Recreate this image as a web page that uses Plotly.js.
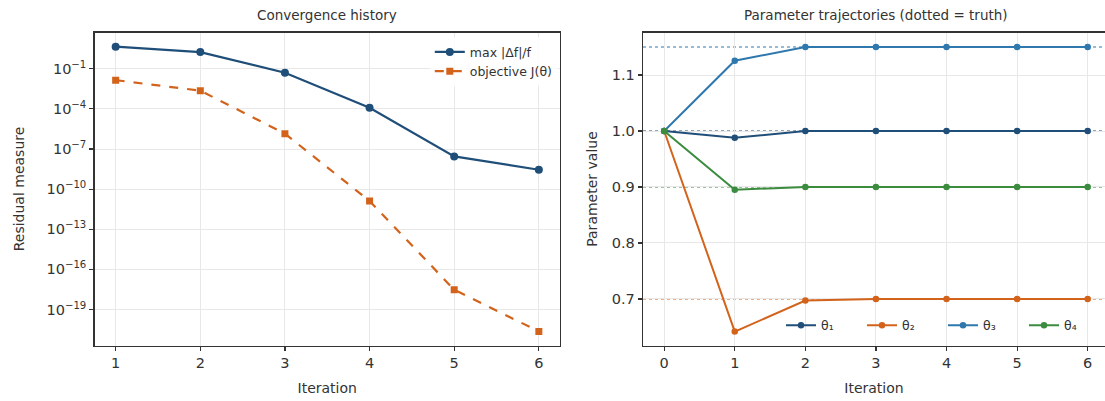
<!DOCTYPE html>
<html>
<head>
<meta charset="utf-8">
<script src="https://cdn.plot.ly/plotly-3.0.1.min.js"></script>
<style>html,body{margin:0;padding:0;background:#fff}#chart{width:1105px;height:401px}</style>
</head>
<body>
<div id="chart"></div>
<script>
// ---- data ----
const iterations = [1, 2, 3, 4, 5, 6];
const maxRelChange = [4.5, 1.76, 0.05, 1.2e-4, 2.8e-8, 2.8e-9];
const objective = [0.014, 2.3e-3, 1.4e-6, 1.3e-11, 3e-18, 2.3e-21];

const paramIter = [0, 1, 2, 3, 4, 5, 6];
const theta1 = [1.0, 0.988, 1.0, 1.0, 1.0, 1.0, 1.0];
const theta2 = [1.0, 0.6417, 0.697, 0.7, 0.7, 0.7, 0.7];
const theta3 = [1.0, 1.1255, 1.15, 1.15, 1.15, 1.15, 1.15];
const theta4 = [1.0, 0.895, 0.9, 0.9, 0.9, 0.9, 0.9];
const truthValues = [1.0, 0.7, 1.15, 0.9];
const thetaNames = ['θ₁', 'θ₂', 'θ₃', 'θ₄'];

const logTickVals = [1e-1, 1e-4, 1e-7, 1e-10, 1e-13, 1e-16, 1e-19];
const logTickText = ['10<sup>−1</sup>', '10<sup>−4</sup>', '10<sup>−7</sup>', '10<sup>−10</sup>',
                     '10<sup>−13</sup>', '10<sup>−16</sup>', '10<sup>−19</sup>'];
const paramTickVals = [0.7, 0.8, 0.9, 1.0, 1.1];
const paramTickText = ['0.7', '0.8', '0.9', '1.0', '1.1'];

// ---- styles ----
const cDark = '#1f4e79', cOrange = '#d3631b', cSteel = '#2e78ad', cGreen = '#3b8c3e';
const thetaColors = [cDark, cOrange, cSteel, cGreen];
const FONT = 'DejaVu Sans, sans-serif';
const W = 1105, H = 401;
const yTop = 1 - 32.5 / H, yBot = 1 - 345.5 / H;
const titleFont = {family: FONT, size: 14, color: '#333'};

const traces = [
  {x: iterations, y: maxRelChange, name: 'max |Δf|/f', mode: 'lines+markers',
   line: {color: cDark, width: 2.2}, marker: {color: cDark, size: 8, symbol: 'circle'},
   xaxis: 'x', yaxis: 'y', legend: 'legend'},
  {x: iterations, y: objective, name: 'objective J(θ)', mode: 'lines+markers',
   line: {color: cOrange, width: 2.2, dash: 'dash'}, marker: {color: cOrange, size: 7, symbol: 'square'},
   xaxis: 'x', yaxis: 'y', legend: 'legend'}
];
[theta1, theta2, theta3, theta4].forEach((th, i) => {
  traces.push({x: paramIter, y: th, name: thetaNames[i], mode: 'lines+markers',
    line: {color: thetaColors[i], width: 2}, marker: {color: thetaColors[i], size: 6.5},
    xaxis: 'x2', yaxis: 'y2', legend: 'legend2'});
});

const shapes = truthValues.map((v, i) => ({
  type: 'line', xref: 'x2 domain', yref: 'y2', x0: 0, x1: 1, y0: v, y1: v,
  line: {color: thetaColors[i], width: 1.1, dash: 'dot'}, layer: 'below'
}));

const axisCommon = {
  showline: true, linecolor: '#333', linewidth: 1.3, ticks: 'outside', ticklen: 4,
  tickcolor: '#333', tickwidth: 1.2, showgrid: true, gridcolor: '#e8e8e8', gridwidth: 1,
  zeroline: false, tickfont: {family: FONT, size: 14.5, color: '#333'}
};

const layout = {
  width: W, height: H, margin: {l: 0, r: 0, t: 0, b: 0},
  paper_bgcolor: '#fff', plot_bgcolor: '#fff', showlegend: true,
  font: {family: FONT, color: '#333'},
  xaxis: Object.assign({}, axisCommon, {domain: [94.5 / W, 560 / W], range: [0.75, 6.25],
    tickvals: iterations, ticktext: iterations.map(String), mirror: true, anchor: 'y',
    title: {text: 'Iteration', font: titleFont, standoff: 13}}),
  yaxis: Object.assign({}, axisCommon, {domain: [yBot, yTop], type: 'log', range: [-21.69, 1.71],
    tickvals: logTickVals, ticktext: logTickText, mirror: true, anchor: 'x',
    title: {text: 'Residual measure', font: titleFont, standoff: 18}}),
  xaxis2: Object.assign({}, axisCommon, {domain: [643 / W, 1], range: [-0.3, 6.245],
    tickvals: paramIter, ticktext: paramIter.map(String), mirror: true, anchor: 'y2',
    title: {text: 'Iteration', font: titleFont, standoff: 13}}),
  yaxis2: Object.assign({}, axisCommon, {domain: [yBot, yTop], range: [0.6168, 1.176],
    tickvals: paramTickVals, ticktext: paramTickText, mirror: false, anchor: 'x2',
    title: {text: 'Parameter value', font: titleFont, standoff: 10}}),
  legend: {x: 560 / W - 0.002, y: yTop - 0.012, xanchor: 'right', yanchor: 'top',
    bgcolor: 'rgba(255,255,255,0.8)', borderwidth: 0,
    font: {family: FONT, size: 12.5, color: '#333'}, tracegroupgap: 2, itemwidth: 30},
  legend2: {x: 1.0, y: yBot + 0.012, xanchor: 'right', yanchor: 'bottom', orientation: 'h',
    bgcolor: 'rgba(255,255,255,0)', borderwidth: 0, entrywidth: 36,
    font: {family: FONT, size: 12.5, color: '#333'}, itemwidth: 30},
  shapes: shapes,
  annotations: [
    {text: 'Convergence history', xref: 'paper', yref: 'paper', x: (94.5 + 560) / 2 / W, y: 1 - 15 / H,
     xanchor: 'center', yanchor: 'middle', showarrow: false, font: {family: FONT, size: 13.5, color: '#333'}},
    {text: 'Parameter trajectories (dotted = truth)', xref: 'paper', yref: 'paper', x: (643 + 1109) / 2 / W,
     y: 1 - 15 / H, xanchor: 'center', yanchor: 'middle', showarrow: false,
     font: {family: FONT, size: 13.5, color: '#333'}}
  ]
};

Plotly.newPlot('chart', traces, layout, {staticPlot: true, displayModeBar: false});
</script>
</body>
</html>
